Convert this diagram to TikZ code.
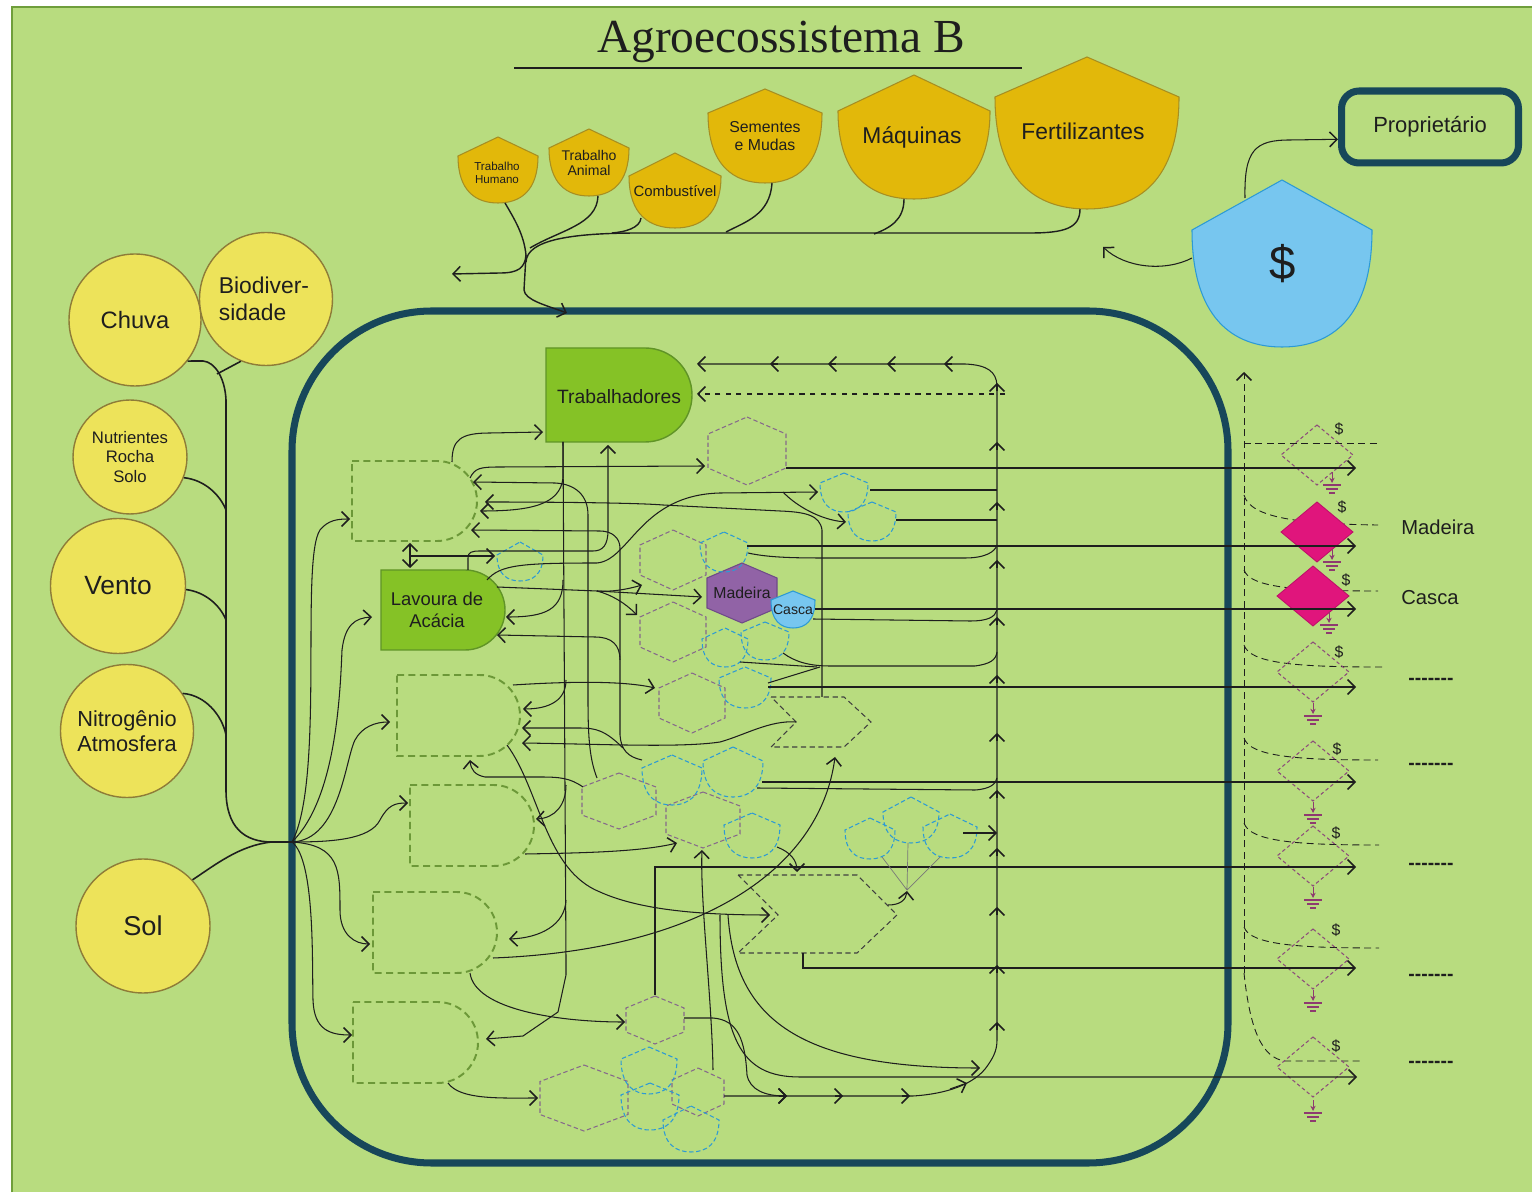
\documentclass[tikz,border=0pt]{standalone}
\usepackage{fontspec}
\setmainfont{Liberation Sans}
\newfontfamily\titlefont{Liberation Serif}
\usetikzlibrary{arrows.meta}

\definecolor{bggreen}{HTML}{B8DC7F}
\definecolor{edgegreen}{HTML}{6F9E3B}
\definecolor{frameblue}{HTML}{17475A}
\definecolor{srcyellow}{HTML}{EDE35A}
\definecolor{srcedge}{HTML}{8E7C38}
\definecolor{gold}{HTML}{E2B80A}
\definecolor{goldedge}{HTML}{A68E22}
\definecolor{prodgreen}{HTML}{85C226}
\definecolor{prodedge}{HTML}{609426}
\definecolor{dashgreen}{HTML}{6C9838}
\definecolor{hexpurple}{HTML}{86698B}
\definecolor{woodpurple}{HTML}{9163A6}
\definecolor{woodedge}{HTML}{6F4B88}
\definecolor{skyblue}{HTML}{77C6EF}
\definecolor{skyedge}{HTML}{2C9AD5}
\definecolor{diampurple}{HTML}{8C4C7A}
\definecolor{diamred}{HTML}{E0157C}
\definecolor{groundc}{HTML}{8E3A70}
\definecolor{ink}{HTML}{1E1E1E}

% shield: name, cx, top, shoulder, bottom, half width, style
\newcommand{\shieldshape}[7]{%
  \draw[#7] ({#2},{#3}) -- ({#2+#6},{#4})
    .. controls ({#2+#6},{#4+0.75*(#5-#4)}) and ({#2+0.55*#6},{#5}) .. ({#2},{#5})
    .. controls ({#2-0.55*#6},{#5}) and ({#2-#6},{#4+0.75*(#5-#4)}) .. ({#2-#6},{#4}) -- cycle;
  \coordinate (#1) at ({#2},{(#3+#5)/2});}
% hexagon: name, cx, cy, half width, half height, style
\newcommand{\hexshape}[6]{%
  \draw[#6] ({#2},{#3-#5}) -- ({#2+#4},{#3-#5/2}) -- ({#2+#4},{#3+#5/2}) -- ({#2},{#3+#5})
    -- ({#2-#4},{#3+#5/2}) -- ({#2-#4},{#3-#5/2}) -- cycle;
  \coordinate (#1) at (#2,#3);}
% producer: name, x1, y1, x2, y2, style
\newcommand{\prodshape}[6]{%
  \draw[#6] ({#2},{#3}) -- ({#4-0.5*(#5-#3)},{#3})
    .. controls ({#4-0.224*(#5-#3)},{#3}) and ({#4},{#3+0.224*(#5-#3)}) .. ({#4},{(#3+#5)/2})
    .. controls ({#4},{#5-0.224*(#5-#3)}) and ({#4-0.224*(#5-#3)},{#5}) .. ({#4-0.5*(#5-#3)},{#5})
    -- ({#2},{#5}) -- cycle;
  \coordinate (#1) at ({(#2+#4)/2},{(#3+#5)/2});}
% transaction: name, cx, cy, style
\newcommand{\diamshape}[4]{%
  \draw[#4] ({#2},{#3-30}) -- ({#2+36},{#3}) -- ({#2},{#3+30}) -- ({#2-36},{#3}) -- cycle;
  \coordinate (#1) at (#2,#3);}
% heat sink: x, y
\newcommand{\groundsym}[2]{%
  \draw[groundc, line width=0.5pt, -{Stealth[length=3pt,width=3pt]}] (#1,#2) -- (#1,{#2+11});
  \draw[groundc, line width=0.6pt] ({#1-9},{#2+13}) -- ({#1+9},{#2+13})
    ({#1-6},{#2+17}) -- ({#1+6},{#2+17}) ({#1-3},{#2+21}) -- ({#1+3},{#2+21});}

\tikzset{
  flow/.style={draw=ink, line width=0.6pt},
  thinflow/.style={draw=ink!60, line width=0.4pt},
  srcnode/.style={circle, fill=srcyellow, draw=srcedge, line width=0.8pt, inner sep=0pt, align=center, text=ink},
  goldshield/.style={fill=gold, draw=goldedge, line width=0.6pt},
  prodsolid/.style={fill=prodgreen, draw=prodedge, line width=0.8pt},
  proddash/.style={draw=dashgreen, line width=1.1pt, dash pattern=on 4pt off 2.5pt},
  hexdash/.style={draw=hexpurple, line width=0.6pt, dash pattern=on 2.5pt off 1.5pt},
  bluedash/.style={draw=skyedge, line width=0.6pt, dash pattern=on 2.5pt off 1.5pt},
  chevdash/.style={draw=ink!85, line width=0.6pt, dash pattern=on 3pt off 2pt},
  diamdash/.style={draw=diampurple, line width=0.6pt, dash pattern=on 2pt off 1.5pt},
  diamsolid/.style={fill=diamred, draw=diamred!85!black, line width=0.5pt},
  pricedash/.style={draw=ink, line width=0.5pt, dash pattern=on 4pt off 2.5pt},
  lbl/.style={text=ink, inner sep=0pt, align=center},
}

\begin{document}
\begin{tikzpicture}[x=0.02cm, y=-0.02cm, >={Straight Barb[length=4.2pt,width=8.5pt,line width=0.85pt]}]
  \useasboundingbox (0,0) rectangle (1532,1195);
  \fill[white] (0,0) rectangle (1532,1195);
  \fill[bggreen] (11,6) rectangle (1532,1192);
  \draw[edgegreen, line width=1.6pt] (12,1192) -- (12,7) -- (1532,7);

  % title
  \node[lbl, font=\titlefont\fontsize{27}{30}\selectfont] (title) at (781,42) {Agroecossistema B};
  \draw[ink, line width=1.1pt] (514,68) -- (1022,68);

  % system frame
  \draw[frameblue, line width=4pt, rounded corners=2.8cm] (292,311) rectangle (1228,1163);

  % sources
  \node[srcnode, minimum size=2.64cm] (chuva) at (135,320) {};
  \node[srcnode, minimum size=2.66cm] (bio) at (266,299) {};
  \node[srcnode, minimum size=2.28cm] (nutri) at (130,457) {};
  \node[srcnode, minimum size=2.7cm] (vento) at (118,586) {};
  \node[srcnode, minimum size=2.66cm] (nitro) at (127,731) {};
  \node[srcnode, minimum size=2.68cm] (sol) at (143,926) {};

  \draw[flow, line width=0.9pt] (chuva.-38) -- (203,361) .. controls (215,362) and (225,378) .. (226,400)
    -- (226,790) .. controls (226,828) and (245,842) .. (272,842) -- (292,842);
  \draw[flow, line width=0.9pt] (bio.-112) -- (217,374);
  \draw[flow, line width=0.9pt] (nutri.-21) .. controls (205,480) and (220,495) .. (226,510);
  \draw[flow, line width=0.9pt] (vento.-3) .. controls (205,592) and (220,605) .. (226,620);
  \draw[flow, line width=0.9pt] (nitro.34) .. controls (205,695) and (222,715) .. (226,735);
  \draw[flow, line width=0.9pt] (sol.43) .. controls (215,865) and (240,845) .. (272,842);

  % purchased inputs
  \shieldshape{th}{498}{137}{156}{203}{40}{goldshield}
  \shieldshape{ta}{589}{129}{148}{196}{40}{goldshield}
  \shieldshape{comb}{675}{153}{176}{228}{46}{goldshield}
  \shieldshape{sem}{765}{89}{113}{183}{57}{goldshield}
  \shieldshape{maq}{914}{75}{111}{199}{76}{goldshield}
  \shieldshape{fert}{1087}{57}{97}{209}{92}{goldshield}
  \shieldshape{money}{1282}{180}{230}{347}{90}{fill=skyblue, draw=skyedge, line width=0.6pt}

  \draw[flow, line width=0.8pt] (1080,209) .. controls (1080,228) and (1065,233) .. (1030,233) -- (640,233)
    .. controls (570,233) and (527,240) .. (526,262);
  \draw[flow, line width=0.8pt] (904,199) .. controls (904,220) and (890,228) .. (874,234);
  \draw[flow, line width=0.8pt] (772,183) .. controls (770,215) and (745,222) .. (726,232);
  \draw[flow, line width=0.8pt] (641,218) .. controls (640,228) and (625,232) .. (612,233);
  \draw[flow, line width=0.8pt] (598,196) .. controls (597,225) and (560,230) .. (530,248);
  \draw[flow, line width=0.8pt] (505,203) .. controls (515,220) and (524,235) .. (526,255);
  \draw[flow, line width=0.8pt, ->] (526,255) .. controls (525,268) and (518,273) .. (500,273) -- (452,274);
  \draw[flow, line width=0.8pt, ->] (526,255) -- (524,290) .. controls (525,300) and (545,305) .. (567,313);

  % owner
  \node[lbl, draw=frameblue, line width=4pt, rounded corners=10pt, minimum width=3.54cm, minimum height=1.44cm,
    font=\fontsize{12.5}{14}\selectfont] (prop) at (1430,127) {Proprietário};
  \draw[flow, ->] (1245,198) .. controls (1244,150) and (1255,140) .. (1290,140) -- ([yshift=-7pt]prop.west);
  \draw[flow, ->] (1192,258) .. controls (1165,272) and (1125,268) .. (1103,247);

  % producers
  \prodshape{trab}{546}{348}{692}{442}{prodsolid}
  \prodshape{lav}{381}{570}{505}{650}{prodsolid}
  \prodshape{pa}{352}{461}{477}{541}{proddash}
  \prodshape{pb}{397}{675}{520}{756}{proddash}
  \prodshape{pc}{410}{785}{534}{866}{proddash}
  \prodshape{pd}{373}{892}{497}{973}{proddash}
  \prodshape{pe}{353}{1002}{478}{1083}{proddash}

  % consumers
  \hexshape{h1}{747}{451}{39}{34}{hexdash}
  \hexshape{h2}{673}{560}{33}{30}{hexdash}
  \hexshape{h3}{673}{632}{33}{30}{hexdash}
  \hexshape{h4}{692}{703}{33}{30}{hexdash}
  \hexshape{h5}{619}{801}{37}{28}{hexdash}
  \hexshape{h6}{703}{820}{37}{28}{hexdash}
  \hexshape{h7}{655}{1020}{29}{24}{hexdash}
  \hexshape{h8}{584}{1098}{44}{33}{hexdash}
  \hexshape{h9}{698}{1092}{26}{24}{hexdash}
  \hexshape{wood}{742}{593}{35}{30}{fill=woodpurple, draw=woodedge, line width=0.6pt}

  \shieldshape{b1}{520}{542}{555}{581}{23}{bluedash}
  \shieldshape{b2}{844}{473}{483}{512}{24}{bluedash}
  \shieldshape{b3}{872}{502}{512}{541}{24}{bluedash}
  \shieldshape{b4}{724}{532}{543}{572}{24}{bluedash}
  \shieldshape{b5}{725}{628}{639}{667}{23}{bluedash}
  \shieldshape{b6}{765}{622}{632}{660}{24}{bluedash}
  \shieldshape{b7}{745}{667}{678}{708}{26}{bluedash}
  \shieldshape{b8}{672}{755}{768}{805}{30}{bluedash}
  \shieldshape{b9}{733}{747}{761}{797}{30}{bluedash}
  \shieldshape{b10}{752}{813}{825}{858}{28}{bluedash}
  \shieldshape{b11}{870}{818}{830}{859}{25}{bluedash}
  \shieldshape{b12}{911}{797}{812}{843}{28}{bluedash}
  \shieldshape{b13}{950}{814}{827}{858}{27}{bluedash}
  \shieldshape{b14}{649}{1047}{1059}{1094}{28}{bluedash}
  \shieldshape{b15}{650}{1083}{1095}{1130}{29}{bluedash}
  \shieldshape{b16}{691}{1106}{1120}{1152}{28}{bluedash}
  \shieldshape{bark}{793}{591}{600}{628}{22}{fill=skyblue, draw=skyedge, line width=0.6pt}

  % storages
  \draw[chevdash] (771,697) -- (844,697) -- (871,722) -- (844,747) -- (771,747) -- (796,722) -- cycle;
  \draw[chevdash] (738,875) -- (857,875) -- (897,915) -- (857,953) -- (738,953) -- (778,915) -- cycle;
  \coordinate (st1) at (822,722);
  \coordinate (st2) at (830,915);

  % transactions
  \draw[pricedash, ->] (1244,973) -- (1244,372);
  \draw[pricedash] (1244,443) -- (1378,443);
  \draw[pricedash] (1244,495) .. controls (1250,518) and (1300,524) .. (1378,525);
  \draw[pricedash] (1244,570) .. controls (1250,588) and (1300,591) .. (1378,591);
  \draw[pricedash] (1244,645) .. controls (1250,664) and (1300,667) .. (1382,667);
  \draw[pricedash] (1244,738) .. controls (1250,757) and (1300,760) .. (1378,760);
  \draw[pricedash] (1244,823) .. controls (1250,842) and (1300,845) .. (1379,845);
  \draw[pricedash] (1244,927) .. controls (1250,945) and (1300,948) .. (1379,948);
  \draw[pricedash] (1244,973) .. controls (1250,1030) and (1262,1058) .. (1285,1061) -- (1363,1061);

  \diamshape{d1}{1317}{455}{diamdash}
  \diamshape{d2}{1317}{532}{diamsolid}
  \diamshape{d3}{1313}{596}{diamsolid}
  \diamshape{d4}{1313}{672}{diamdash}
  \diamshape{d5}{1313}{771}{diamdash}
  \diamshape{d6}{1313}{856}{diamdash}
  \diamshape{d7}{1313}{959}{diamdash}
  \diamshape{d8}{1313}{1067}{diamdash}
  \groundsym{1332}{472}
  \groundsym{1332}{549}
  \groundsym{1329}{612}
  \groundsym{1313}{703}
  \groundsym{1313}{802}
  \groundsym{1313}{887}
  \groundsym{1313}{990}
  \groundsym{1313}{1100}
  \foreach \dx/\dy in {1339/429, 1342/507, 1346/580, 1339/652, 1337/749, 1336/833, 1336/930, 1336/1046}
    \node[lbl, font=\fontsize{9}{9}\selectfont] at (\dx,\dy) {\$};

  % flows to sale
  \foreach \ya/\xa in {468/786, 546/747, 609/815, 687/768, 782/762}
    \draw[flow, ->] (\xa,\ya) -- (1356,\ya);
  \draw[flow, ->] (655,995) -- (655,867) -- (1356,867);
  \draw[flow, ->] (803,953) -- (803,968) -- (1356,968);
  \draw[flow, ->] (720,915) .. controls (720,1040) and (740,1077) .. (800,1077) -- (1357,1077);

  % recycle loop
  \draw[flow] (724,1096) -- (913,1096) .. controls (945,1094) and (975,1085) .. (988,1065)
    .. controls (995,1055) and (997,1048) .. (997,1040) -- (997,395);
  \draw[flow, ->] (997,395) -- (997,385) .. controls (996,372) and (988,365) .. (965,364) -- (697,364);
  \foreach \y in {383,442,502,560,617,675,733,790,848,907,965,1022}
    \draw[flow, ->] (997,\y+8) -- (997,\y);
  \foreach \x in {770,828,887,944}
    \draw[flow, ->] (\x+8,364) -- (\x,364);
  \foreach \x in {787,843,910}
    \draw[flow, ->] (\x-8,1096) -- (\x,1096);
  \draw[flow, ->] (950,1089) -- (967,1083);
  \draw[flow, dashed, ->] (1005,394) -- (697,394);

  \draw[flow] (870,490) -- (997,490);
  \draw[flow] (896,520) -- (997,520);
  \draw[flow] (748,553) .. controls (770,558) and (800,558) .. (830,558) -- (965,558) .. controls (985,558) and (995,552) .. (997,545);
  \draw[flow] (813,619) -- (970,621) .. controls (988,621) and (995,617) .. (997,610);
  \draw[flow] (783,653) .. controls (795,662) and (810,666) .. (830,666) -- (975,666) .. controls (990,664) and (996,660) .. (997,652);
  \draw[flow] (768,683) -- (820,667);
  \draw[flow] (740,662) -- (817,667);
  \draw[flow] (757,788) -- (975,790) .. controls (990,789) and (996,784) .. (997,778);
  \draw[flow, ->] (963,833) -- (997,833);

  % energy fan from the sources
  \draw[flow, ->] (292,842) .. controls (325,780) and (300,560) .. (320,530) .. controls (328,520) and (338,519) .. (350,519);
  \draw[flow, ->] (292,842) .. controls (335,800) and (340,700) .. (342,650) .. controls (345,625) and (355,618) .. (372,617);
  \draw[flow, ->] (292,842) .. controls (340,840) and (345,760) .. (355,740) .. controls (362,727) and (375,722) .. (390,722);
  \draw[flow, ->] (292,842) .. controls (330,842) and (370,840) .. (380,820) .. controls (388,805) and (395,803) .. (408,803);
  \draw[flow, ->] (292,842) .. controls (340,845) and (340,870) .. (340,910) .. controls (340,935) and (355,944) .. (370,944);
  \draw[flow, ->] (292,842) .. controls (315,860) and (312,960) .. (313,1000) .. controls (314,1030) and (330,1035) .. (352,1035);

  % upper interior
  \draw[flow, ->] (452,462) .. controls (452,440) and (460,433) .. (490,433) -- (543,432);
  \draw[flow, ->] (470,478) .. controls (475,468) and (480,467) .. (500,467) -- (705,466);
  \draw[flow, ->] (822,697) -- (822,530) .. controls (820,515) and (805,512) .. (780,511) -- (663,505)
    .. controls (640,503) and (560,502) .. (485,502);
  \draw[flow, ->] (487,580) .. controls (500,565) and (520,563) .. (597,563) .. controls (630,560) and (640,495) .. (720,493) -- (818,492);
  \draw[flow, ->] (783,492) .. controls (795,505) and (820,520) .. (846,522);
  \draw[flow, ->] (563,442) -- (563,478) .. controls (560,505) and (530,511) .. (480,511);
  \draw[flow, ->] (563,442) -- (566,960) -- (566,975) -- (558,1012) -- (523,1036) -- (486,1039);
  \draw[flow, ->] (563,580) .. controls (563,610) and (545,617) .. (506,617);
  \draw[flow, ->] (566,680) .. controls (566,700) and (550,709) .. (523,709);
  \draw[flow, ->] (566,785) .. controls (566,805) and (555,818) .. (536,819);
  \draw[flow, ->] (566,900) .. controls (565,925) and (540,938) .. (509,939);
  \draw[flow, ->] (597,778) .. controls (590,760) and (588,740) .. (588,700) -- (588,515) .. controls (588,495) and (575,484) .. (555,483) -- (473,482);
  \draw[flow, ->] (642,760) .. controls (628,757) and (621,750) .. (620,735) -- (620,660) .. controls (620,645) and (612,637) .. (595,637) -- (497,635);
  \draw[flow, ->] (620,660) -- (620,548) .. controls (620,538) and (612,531) .. (600,531) -- (471,530);
  \draw[flow, ->] (623,748) .. controls (605,730) and (595,728) .. (580,728) -- (522,728);
  \draw[flow, <->] (410,543) -- (410,568);
  \draw[flow, ->] (410,556) -- (495,556);
  \draw[flow, ->] (468,570) -- (468,558) .. controls (468,552) and (472,551) .. (480,551) -- (593,551)
    .. controls (603,551) and (608,545) .. (608,530) -- (608,445);
  \draw[flow] (497,587) -- (597,591);
  \draw[flow, ->] (597,591) .. controls (610,592) and (625,590) .. (642,585);
  \draw[flow, ->] (597,591) -- (702,597);
  \draw[flow, ->] (597,591) .. controls (612,595) and (625,603) .. (637,615);

  % lower interior
  \draw[flow, ->] (513,685) .. controls (560,682) and (620,680) .. (655,688);
  \draw[flow, ->] (796,722) .. controls (770,720) and (745,735) .. (720,742) .. controls (680,748) and (600,744) .. (522,743);
  \draw[flow, ->] (507,745) .. controls (540,790) and (545,870) .. (600,892) .. controls (640,910) and (700,915) .. (770,915);
  \draw[flow, ->] (583,787) .. controls (570,778) and (560,777) .. (540,777) -- (485,777) .. controls (475,775) and (471,770) .. (470,760);
  \draw[flow, ->] (525,854) .. controls (580,853) and (640,852) .. (677,843);
  \draw[flow, ->] (493,958) .. controls (700,950) and (820,870) .. (835,757);
  \draw[flow, ->] (470,973) .. controls (475,1010) and (560,1022) .. (625,1022);
  \draw[flow, ->] (448,1083) .. controls (460,1100) and (500,1098) .. (538,1098);
  \draw[flow, ->] (684,1018) -- (713,1018) .. controls (738,1020) and (745,1040) .. (747,1075) .. controls (750,1090) and (765,1096) .. (787,1096);
  \draw[flow, ->] (713,1070) .. controls (712,1000) and (700,900) .. (702,850);
  \draw[flow, ->] (728,915) .. controls (735,1020) and (800,1068) .. (980,1068);
  \draw[flow, ->] (777,847) .. controls (790,852) and (797,860) .. (797,872);
  \draw[flow, ->] (888,905) .. controls (900,905) and (906,900) .. (907,891);
  \draw[thinflow] (882,857) -- (907,890) -- (940,857) (908,843) -- (907,890);

  % labels
  \node[lbl, font=\fontsize{13.5}{15}\selectfont] (chuvatxt) at (chuva) {Chuva};
  \node[lbl, align=left, font=\fontsize{13}{15}\selectfont] (biotxt) at (264,299) {Biodiver-\\sidade};
  \node[lbl, font=\fontsize{9.5}{11}\selectfont] (nutritxt) at (nutri) {Nutrientes\\Rocha\\Solo};
  \node[lbl, font=\fontsize{15}{17}\selectfont] (ventotxt) at (vento) {Vento};
  \node[lbl, font=\fontsize{12.4}{14}\selectfont] (nitrotxt) at (nitro) {Nitrogênio\\Atmosfera};
  \node[lbl, font=\fontsize{15.5}{17}\selectfont] (soltxt) at (sol) {Sol};
  \node[lbl, font=\fontsize{6.6}{7.6}\selectfont] (thtxt) at (497,173) {Trabalho\\Humano};
  \node[lbl, font=\fontsize{8}{9}\selectfont] (tatxt) at (589,163) {Trabalho\\Animal};
  \node[lbl, font=\fontsize{8.5}{10}\selectfont] (combtxt) at (675,191) {Combustível};
  \node[lbl, font=\fontsize{9}{10.5}\selectfont] (semtxt) at (765,136) {Sementes\\e Mudas};
  \node[lbl, font=\fontsize{13}{15}\selectfont] (maqtxt) at (912,137) {Máquinas};
  \node[lbl, font=\fontsize{13}{15}\selectfont] (ferttxt) at (1083,131) {Fertilizantes};
  \node[lbl, font=\fontsize{27}{30}\selectfont] (moneytxt) at (1283,264) {\$};
  \node[lbl, font=\fontsize{11}{13}\selectfont] (trabtxt) at (619,397) {Trabalhadores};
  \node[lbl, font=\fontsize{10.5}{12.5}\selectfont] (lavtxt) at (437,610) {Lavoura de\\Acácia};
  \node[lbl, font=\fontsize{9}{10}\selectfont] (woodtxt) at (742,593) {Madeira};
  \node[lbl, font=\fontsize{8}{9}\selectfont] (barktxt) at (793,610) {Casca};
  \node[lbl, anchor=west, font=\fontsize{11.5}{13}\selectfont] (madeira) at (1401,527) {Madeira};
  \node[lbl, anchor=west, font=\fontsize{11.5}{13}\selectfont] (casca) at (1401,598) {Casca};
  \foreach \ly in {681,766,866,977,1064}
    \node[lbl, font=\bfseries\fontsize{11}{12}\selectfont] at (1431,\ly) {-{}-{}-{}-{}-{}-{}-};
\end{tikzpicture}
\end{document}
